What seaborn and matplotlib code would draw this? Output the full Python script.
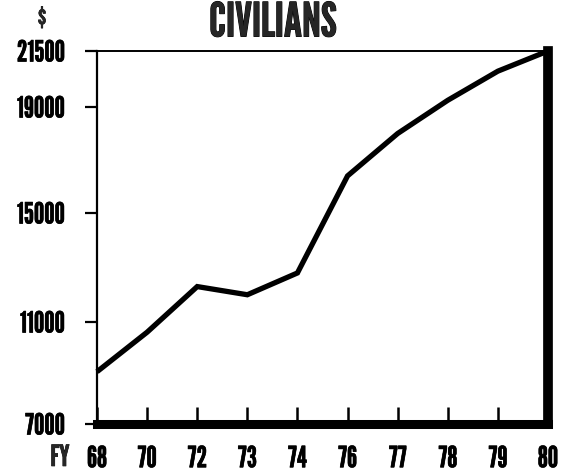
import numpy as np
import matplotlib
matplotlib.use("Agg")
import matplotlib.pyplot as plt
import matplotlib.patheffects as pe
import seaborn as sns
import pandas as pd

# ---- data ----
years = ["68", "70", "72", "73", "74", "76", "77", "78", "79", "80"]
values = [9050, 10600, 12300, 12000, 12800, 16400, 18000, 19300, 20600, 21500]
ytick_values = [7000, 11000, 15000, 19000, 21500]
ytick_labels = ["7000", "11000", "15000", "19000", "21500"]
title = "CIVILIANS"
unit_label = "$"
fy_label = "FY"

sns.set_theme(style="white")
FONT = ["League Gothic", "Roboto Condensed", "DejaVu Sans"]
plt.rcParams["font.family"] = FONT
plt.rcParams.update({
    "xtick.direction": "in", "xtick.major.size": 12, "xtick.major.width": 1.8,
    "xtick.major.pad": 16, "xtick.bottom": True,
    "ytick.direction": "out", "ytick.major.size": 9, "ytick.major.width": 1.6,
    "ytick.major.pad": 14, "ytick.left": True,
    "xtick.color": "black", "ytick.color": "black",
})
BOLD = [pe.withStroke(linewidth=0.45, foreground="black")]

fig = plt.figure(figsize=(5.70, 4.74), dpi=100)
ax = fig.add_axes([97 / 570, 1 - 424 / 474, (548 - 97) / 570, (424 - 51) / 474])

# hand-drawn (non-uniform) vertical scale of the original chart
scale_pix = [0, 102, 211, 317, 373]
def fwd(v):
    return np.interp(v, ytick_values, scale_pix)
def inv(p):
    return np.interp(p, scale_pix, ytick_values)
ax.set_yscale("function", functions=(fwd, inv))

df = pd.DataFrame({"pos": np.arange(len(years)), "value": values})
sns.lineplot(data=df, x="pos", y="value", ax=ax, color="black",
             linewidth=3.8, solid_joinstyle="miter", solid_capstyle="butt")
for l in ax.lines:
    l.set_clip_on(False)

ax.set_xlim(0, len(years) - 1)
ax.set_ylim(ytick_values[0], ytick_values[-1])
ax.set_xlabel("")
ax.set_ylabel("")

ax.set_xticks(np.arange(len(years)))
ax.set_xticklabels(years, fontsize=21)
ax.set_yticks(ytick_values)
ax.set_yticklabels(ytick_labels, fontsize=21)
ax.tick_params(axis="x", direction="in", length=12, width=1.8, pad=16)
ax.tick_params(axis="y", direction="out", length=9, width=1.6, pad=14)
for t in ax.get_xticklabels() + ax.get_yticklabels():
    t.set_path_effects(BOLD)

for side, lw in [("left", 1.6), ("top", 1.4), ("bottom", 6.5), ("right", 7.0)]:
    ax.spines[side].set_visible(True)
    ax.spines[side].set_color("black")
    ax.spines[side].set_linewidth(lw)
ax.spines["bottom"].set_capstyle("projecting")
ax.spines["right"].set_capstyle("projecting")
ax.grid(False)

fig.text(273 / 570, 1 - 24 / 474, title, ha="center", va="center",
         fontsize=34, family=FONT, path_effects=[pe.withStroke(linewidth=0.7, foreground="black")])
fig.text(42 / 570, 1 - 19 / 474, unit_label, ha="center", va="center",
         fontsize=19, family=FONT, path_effects=BOLD)
fig.text(60 / 570, 1 - 458 / 474, fy_label, ha="center", va="center",
         fontsize=21, family=FONT, path_effects=BOLD)

fig.savefig("out.png", dpi=100, facecolor="white")
